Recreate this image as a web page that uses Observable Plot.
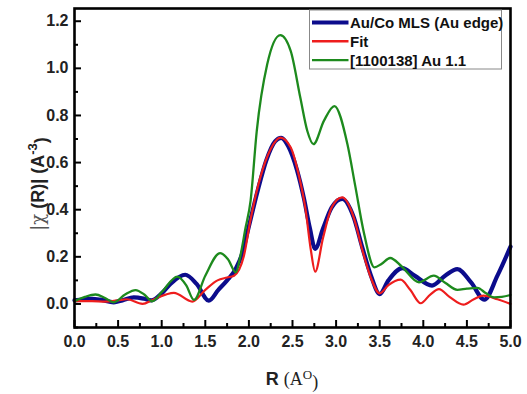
<!DOCTYPE html>
<html><head><meta charset="utf-8">
<script src="https://cdn.jsdelivr.net/npm/d3@7"></script>
<script src="https://cdn.jsdelivr.net/npm/@observablehq/plot@0.6"></script>
<style>body{margin:0;background:#fff} svg{display:block}</style>
</head><body><div id="chart"></div>
<script>
const seriesNames = ["Au/Co MLS (Au edge)", "Fit", "[1100138] Au 1.1"];
const seriesColors = ["#0c0c8c", "#ee1d1d", "#1d8a1d"];

const rMLS = [0,0.1,0.2,0.3,0.45,0.55,0.68,0.8,0.88,1.0,1.1,1.27,1.4,1.54,1.65,1.75,1.85,1.92,2.0,2.1,2.2,2.3,2.37,2.45,2.55,2.63,2.7,2.76,2.85,2.95,3.07,3.2,3.3,3.4,3.5,3.6,3.76,3.9,4.1,4.25,4.39,4.55,4.7,4.85,5.0];
const chiMLS = [0.015,0.02,0.022,0.018,0.007,0.015,0.028,0.022,0.015,0.045,0.085,0.124,0.085,0.014,0.06,0.1,0.15,0.21,0.33,0.48,0.61,0.69,0.705,0.67,0.57,0.45,0.32,0.234,0.32,0.41,0.446,0.37,0.24,0.12,0.042,0.1,0.152,0.12,0.078,0.12,0.148,0.09,0.018,0.12,0.243];

const rFit = [0,0.2,0.35,0.5,0.6,0.78,0.9,1.14,1.35,1.5,1.64,1.75,1.83,1.94,2.02,2.13,2.25,2.36,2.48,2.57,2.65,2.71,2.76,2.85,2.95,3.07,3.2,3.3,3.4,3.5,3.6,3.74,3.85,3.97,4.08,4.18,4.3,4.46,4.58,4.69,4.85,5.0];
const chiFit = [0.012,0.012,0.01,0.015,0.02,0.0,0.018,0.047,0.01,0.06,0.1,0.112,0.12,0.2,0.36,0.536,0.658,0.706,0.664,0.55,0.4,0.23,0.137,0.28,0.41,0.452,0.37,0.23,0.11,0.045,0.08,0.103,0.06,0.003,0.04,0.063,0.03,-0.003,0.02,0.035,0.02,0.0];

const rAu = [0,0.12,0.24,0.35,0.45,0.58,0.7,0.8,0.89,1.0,1.18,1.28,1.37,1.5,1.67,1.76,1.85,1.9,1.96,2.02,2.09,2.21,2.36,2.48,2.59,2.67,2.74,2.86,2.98,3.13,3.22,3.32,3.44,3.52,3.62,3.75,3.95,4.12,4.25,4.39,4.5,4.62,4.72,4.81,4.9,5.0];
const chiAu = [0.012,0.03,0.04,0.025,0.007,0.04,0.059,0.04,0.011,0.05,0.116,0.08,0.017,0.12,0.216,0.19,0.134,0.2,0.32,0.44,0.734,1.017,1.141,1.073,0.875,0.734,0.678,0.777,0.84,0.678,0.5,0.3,0.155,0.17,0.195,0.16,0.092,0.12,0.09,0.06,0.065,0.068,0.045,0.028,0.03,0.038];

const xTicks = [0.0,0.5,1.0,1.5,2.0,2.5,3.0,3.5,4.0,4.5,5.0];
const xMinorTicks = [0.25,0.75,1.25,1.75,2.25,2.75,3.25,3.75,4.25,4.75];
const yTicks = [0.0,0.2,0.4,0.6,0.8,1.0,1.2];
const yMinorTicks = [-0.1,0.1,0.3,0.5,0.7,0.9,1.1];
const xDomain = [0, 5];
const yDomain = [-0.1, 1.254];

const W = 527, H = 394;
const mL = 74, mR = 17, mT = 8, mB = 67;
const pxPerX = (W - mL - mR) / (xDomain[1] - xDomain[0]);
const pxPerY = (H - mT - mB) / (yDomain[1] - yDomain[0]);

const series = [
  {name: seriesNames[0], color: seriesColors[0], width: 4.2, data: rMLS.map((r,i)=>({r, v: chiMLS[i]}))},
  {name: seriesNames[1], color: seriesColors[1], width: 2.2, data: rFit.map((r,i)=>({r, v: chiFit[i]}))},
  {name: seriesNames[2], color: seriesColors[2], width: 2.3, data: rAu.map((r,i)=>({r, v: chiAu[i]}))}
];

const majorLen = 7, minorLen = 4;

const chart = Plot.plot({
  width: W, height: H,
  marginLeft: mL, marginRight: mR, marginTop: mT, marginBottom: mB,
  style: {fontFamily: "'Liberation Sans', Arial, sans-serif", fontSize: "16px", fontWeight: "bold", color: "#222", background: "#fff"},
  x: {domain: xDomain},
  y: {domain: yDomain},
  marks: [
    ...series.map(s => Plot.line(s.data, {x: "r", y: "v", stroke: s.color, strokeWidth: s.width, curve: "monotone-x"})),
    Plot.ruleX(xTicks, {x: d => d, y1: yDomain[0], y2: yDomain[0] + majorLen / pxPerY, stroke: "#000", strokeWidth: 2}),
    Plot.ruleX(xMinorTicks, {x: d => d, y1: yDomain[0], y2: yDomain[0] + minorLen / pxPerY, stroke: "#000", strokeWidth: 2}),
    Plot.ruleY(yTicks, {y: d => d, x1: xDomain[0], x2: xDomain[0] + majorLen / pxPerX, stroke: "#000", strokeWidth: 2}),
    Plot.ruleY(yMinorTicks, {y: d => d, x1: xDomain[0], x2: xDomain[0] + minorLen / pxPerX, stroke: "#000", strokeWidth: 2}),
    Plot.axisX({ticks: xTicks, tickSize: 0, tickPadding: 8, tickFormat: d3.format(".1f"), label: null, fill: "#222"}),
    Plot.axisY({ticks: yTicks, tickSize: 0, tickPadding: 6, tickFormat: d3.format(".1f"), label: null, fill: "#222"}),
    Plot.frame({stroke: "#000", strokeWidth: 2.6})
  ]
});
document.getElementById("chart").appendChild(chart);

const svg = d3.select(chart);

// Legend
const lg = svg.append("g").attr("text-anchor", "start");
const lx = 309.5, ly = 10, lw = 192, lh = 59;
lg.append("rect").attr("x", lx).attr("y", ly).attr("width", lw).attr("height", lh)
  .attr("fill", "#fff").attr("stroke", "#888").attr("stroke-width", 1);
series.forEach((s, i) => {
  const yy = ly + 12.5 + i * 18.8;
  lg.append("line").attr("x1", lx + 2.5).attr("x2", lx + 39).attr("y1", yy).attr("y2", yy)
    .attr("stroke", s.color).attr("stroke-width", i === 0 ? 4 : 2.4);
  lg.append("text").attr("x", lx + 40.5).attr("y", yy).attr("dy", "0.36em")
    .attr("text-anchor", "start")
    .attr("font-size", 15).attr("font-weight", "bold").attr("fill", "#111")
    .attr("font-family", "'Liberation Sans', Arial, sans-serif").text(s.name);
});

// Y label
const yl = svg.append("text").attr("transform", `translate(44,${mT + 176}) rotate(-90)`)
  .attr("text-anchor", "middle").attr("font-size", 18).attr("font-weight", "bold").attr("fill", "#222")
  .attr("font-family", "'Liberation Sans', Arial, sans-serif");
yl.append("tspan").attr("font-family", "'DejaVu Serif', 'Liberation Serif', serif").attr("font-weight", "normal").attr("fill", "#555").text("|χ");
yl.append("tspan").text(" (R)| (A");
yl.append("tspan").attr("dy", "-0.55em").attr("font-size", 13).text("-3");
yl.append("tspan").attr("dy", "0.55em").text(")");

// X label
const xl = svg.append("text").attr("x", 292).attr("y", H - 9)
  .attr("text-anchor", "middle").attr("font-size", 18).attr("fill", "#222");
xl.append("tspan").attr("font-family", "'Liberation Sans', Arial, sans-serif").attr("font-weight", "bold").text("R ");
xl.append("tspan").attr("font-family", "'Liberation Serif', 'Times New Roman', serif").attr("font-weight", "normal").text("(A");
xl.append("tspan").attr("font-family", "'Liberation Serif', serif").attr("font-weight", "normal").attr("dy", "-0.5em").attr("font-size", 13).text("O");
xl.append("tspan").attr("font-family", "'Liberation Serif', serif").attr("font-weight", "normal").attr("dy", "0.5em").text(")");
</script>
</body></html>
